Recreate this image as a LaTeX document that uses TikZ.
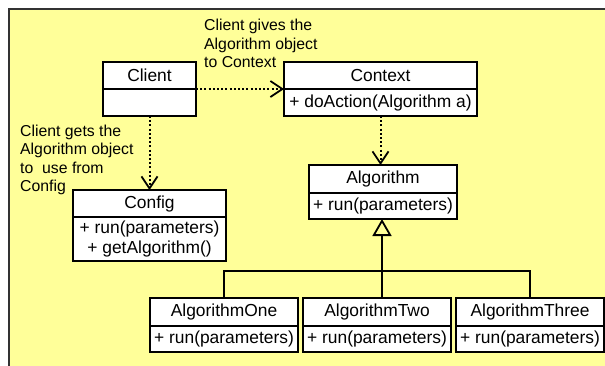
\documentclass[tikz,border=0pt]{standalone}
\usepackage{fontspec}
\setmainfont{Liberation Sans}
\usetikzlibrary{positioning,arrows.meta}
\definecolor{notepad}{RGB}{255,255,153}
\tikzset{
  cls/.style={draw=black, line width=1.8pt, fill=white, inner sep=0pt, outer sep=0pt,
    minimum height=27pt, font=\fontsize{17.4}{20}\selectfont, align=center},
  note/.style={align=left, inner sep=0pt, font=\fontsize{15.8}{18.5}\selectfont},
  dep/.style={line width=2pt, dash pattern=on 2pt off 2.2pt,
    -{Straight Barb[length=12pt,width=16pt,line width=1.8pt]}},
  tree/.style={line width=1.8pt},
  inh/.style={line width=1.8pt, -{Triangle[open,length=17pt,width=19pt,line width=1.8pt]}}
}
\begin{document}
\begin{tikzpicture}[x=1pt,y=-1pt]
  \useasboundingbox (0,0) rectangle (605,365);
  \draw[black!80, line width=1.2pt, fill=notepad] (9,9) rectangle (620,380);
  % classes
  \node[cls, minimum width=93pt] (client) at (149.5,75.5) {Client};
  \node[cls, minimum width=93pt, below=0pt of client] (clientb) {};
  \node[cls, minimum width=193pt] (context) at (380.5,75.5) {Context};
  \node[cls, minimum width=193pt, below=0pt of context] (contextb) {+ doAction(Algorithm a)};
  \node[cls, minimum width=153pt] (config) at (149.5,203.5) {Config};
  \node[cls, minimum width=153pt, minimum height=44pt, below=0pt of config] (configb)
    {+ run(parameters)\\+ getAlgorithm()};
  \node[cls, minimum width=148pt, minimum height=28pt] (algo) at (383,179) {Algorithm};
  \node[cls, minimum width=148pt, minimum height=26pt, below=0pt of algo] (algob) {+ run(parameters)};
  \node[cls, minimum width=148pt, minimum height=28pt] (oneh) at (224,312) {AlgorithmOne};
  \node[cls, minimum width=148pt, minimum height=26pt, below=0pt of oneh] (oneb) {+ run(parameters)};
  \node[cls, minimum width=148pt, minimum height=28pt] (twoh) at (377,312) {AlgorithmTwo};
  \node[cls, minimum width=148pt, minimum height=26pt, below=0pt of twoh] (twob) {+ run(parameters)};
  \node[cls, minimum width=148pt, minimum height=28pt] (threeh) at (530,312) {AlgorithmThree};
  \node[cls, minimum width=148pt, minimum height=26pt, below=0pt of threeh] (threeb) {+ run(parameters)};
  % notes
  \node[note, anchor=north west] (givesnote) at (204,19) {Client gives the\\Algorithm object\\to Context};
  \node[note, anchor=north west] (getsnote) at (20,124.5) {Client gets the\\Algorithm object\\to\ \ use from\\Config};
  % dependencies
  \draw[dep] (client.south east) -- (context.south west);
  \draw[dep] (clientb.south) -- (config.north);
  \draw[dep] (contextb.south) -- (contextb.south |- algo.north);
  % inheritance
  \coordinate (fork) at (382,271);
  \draw[tree] (oneh.north) |- (fork) -| (threeh.north);
  \draw[tree] (fork) -- (fork |- twoh.north);
  \draw[inh] (fork) -- (fork |- algob.south);
\end{tikzpicture}
\end{document}
